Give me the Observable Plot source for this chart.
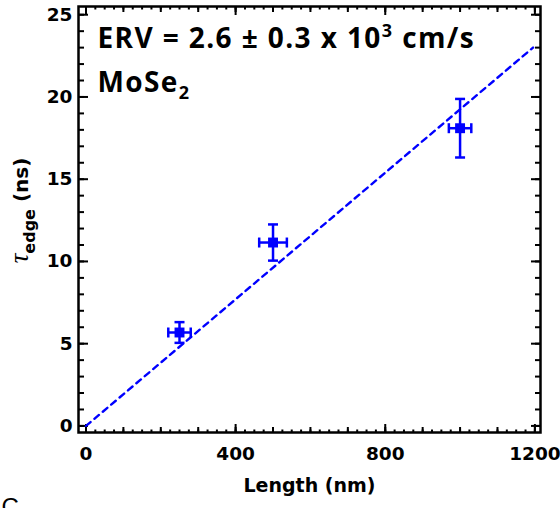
<!DOCTYPE html>
<html><head><meta charset="utf-8">
<script src="https://cdn.jsdelivr.net/npm/d3@7"></script>
<script src="https://cdn.jsdelivr.net/npm/@observablehq/plot@0.6"></script>
<style>body{margin:0;background:#fff}#chart{width:560px;height:508px;overflow:hidden}</style>
</head><body><div id="chart"></div>
<script>
// ---- data ----
const lengthNm = [250, 500, 1000];
const lengthErrNm = [30, 37, 30];
const tauNs = [5.68, 11.15, 18.1];
const tauErrNs = [0.63, 1.1, 1.78];
const fitLengthNm = [0, 1195];
const fitTauNs = [0, 23.0];
const xTickLabels = [0, 400, 800, 1200];
const yTickLabels = [0, 5, 10, 15, 20, 25];
const xMinorTicks = d3.range(0, 1201, 25);
const xMidTicks = d3.range(0, 1201, 100);
const yMinorTicks = d3.range(0, 26, 1);
const annotation1 = "ERV = 2.6 ± 0.3 x 10";
const annotation1Sup = "3";
const annotation1End = " cm/s";
const annotation2 = "MoSe";
const annotation2Sub = "2";
const xLabel = "Length (nm)";
const yLabelSym = "τ", yLabelSub = "edge", yLabelEnd = " (ns)";
const panelLetter = "C";

const blue = "#0000ff";
const points = lengthNm.map((L, i) => ({
  L, tau: tauNs[i],
  lo: tauNs[i] - tauErrNs[i], hi: tauNs[i] + tauErrNs[i],
  xlo: L - lengthErrNm[i], xhi: L + lengthErrNm[i]
}));
const fit = fitLengthNm.map((L, i) => ({L, tau: fitTauNs[i]}));

const hCap = {draw(ctx, size) {const r = Math.sqrt(size / Math.PI); ctx.moveTo(-r, 0); ctx.lineTo(r, 0);}};
const vCap = {draw(ctx, size) {const r = Math.sqrt(size / Math.PI); ctx.moveTo(0, -r); ctx.lineTo(0, r);}};

const tickFont = {fontFamily: "DejaVu Sans", fontWeight: "bold", fontSize: 18.5};
const none = () => "";
const tk = (fn, ticks, opts) => fn(ticks, {tickFormat: none, label: null, strokeWidth: 2, ...opts});

const plot = Plot.plot({
  width: 560, height: 508,
  marginLeft: 78, marginRight: 20, marginTop: 6, marginBottom: 76,
  style: {background: "white", color: "black", fontFamily: "DejaVu Sans"},
  x: {domain: [-20, 1215]},
  y: {domain: [-0.4, 25.5]},
  marks: [
    // inward ticks
    tk(Plot.axisY, yMinorTicks, {anchor: "right", frameAnchor: "left", tickSize: 5}),
    tk(Plot.axisY, yTickLabels, {anchor: "right", frameAnchor: "left", tickSize: 9}),
    tk(Plot.axisY, yMinorTicks, {anchor: "left", frameAnchor: "right", tickSize: 5}),
    tk(Plot.axisY, yTickLabels, {anchor: "left", frameAnchor: "right", tickSize: 9}),
    tk(Plot.axisX, xMinorTicks, {anchor: "top", frameAnchor: "bottom", tickSize: 3.5}),
    tk(Plot.axisX, xMidTicks, {anchor: "top", frameAnchor: "bottom", tickSize: 6}),
    tk(Plot.axisX, xTickLabels, {anchor: "top", frameAnchor: "bottom", tickSize: 9}),
    tk(Plot.axisX, xMinorTicks, {anchor: "bottom", frameAnchor: "top", tickSize: 3.5}),
    tk(Plot.axisX, xMidTicks, {anchor: "bottom", frameAnchor: "top", tickSize: 6}),
    tk(Plot.axisX, xTickLabels, {anchor: "bottom", frameAnchor: "top", tickSize: 9}),
    // tick labels
    Plot.axisY(yTickLabels, {anchor: "left", tickSize: 0, tickPadding: 6, label: null, tickFormat: d3.format("d"), ...tickFont}),
    Plot.axisX(xTickLabels, {anchor: "bottom", tickSize: 0, tickPadding: 14, label: null, tickFormat: d3.format("d"), ...tickFont}),
    Plot.frame({stroke: "black", strokeWidth: 2.5}),
    // fit line
    Plot.line(fit, {x: "L", y: "tau", stroke: blue, strokeWidth: 2.4, strokeDasharray: "6,5"}),
    // error bars
    Plot.ruleX(points, {x: "L", y1: "lo", y2: "hi", stroke: blue, strokeWidth: 2.5}),
    Plot.ruleY(points, {y: "tau", x1: "xlo", x2: "xhi", stroke: blue, strokeWidth: 2.5}),
    Plot.dot(points, {x: "L", y: "hi", symbol: hCap, r: 5, stroke: blue, strokeWidth: 2.5, fill: "none"}),
    Plot.dot(points, {x: "L", y: "lo", symbol: hCap, r: 5, stroke: blue, strokeWidth: 2.5, fill: "none"}),
    Plot.dot(points, {x: "xlo", y: "tau", symbol: vCap, r: 5, stroke: blue, strokeWidth: 2.5, fill: "none"}),
    Plot.dot(points, {x: "xhi", y: "tau", symbol: vCap, r: 5, stroke: blue, strokeWidth: 2.5, fill: "none"}),
    Plot.dot(points, {x: "L", y: "tau", symbol: "square", r: 5.6, fill: blue, stroke: "none"}),
    // annotations
    Plot.text([annotation1], {frameAnchor: "top-left", dx: 19, dy: 22, textAnchor: "start", lineAnchor: "top",
      fontFamily: "Open Sans", fontWeight: "bold", fontSize: 28, fill: "black"}),
    Plot.text([annotation2], {frameAnchor: "top-left", dx: 19, dy: 66, textAnchor: "start", lineAnchor: "top",
      fontFamily: "Open Sans", fontWeight: "bold", fontSize: 28, fill: "black"}),
    // axis titles
    Plot.text([xLabel], {frameAnchor: "bottom", dy: 46, lineAnchor: "top", textAnchor: "middle",
      fontFamily: "DejaVu Sans", fontWeight: "bold", fontSize: 19, fill: "black"}),
    Plot.text([yLabelEnd], {frameAnchor: "left", dx: -57, dy: -9, rotate: -90, lineAnchor: "middle", textAnchor: "middle",
      fontFamily: "DejaVu Sans", fontWeight: "bold", fontSize: 20, fill: "black"}),
    Plot.text([panelLetter], {frameAnchor: "bottom-left", dx: -77, dy: 65, lineAnchor: "top", textAnchor: "start",
      fontFamily: "Liberation Sans", fontSize: 24, fill: "black"})
  ]
});

const svg = d3.select(plot);
const findText = s => svg.selectAll("text").filter(function() { return this.textContent === s; });
findText(annotation1).each(function() {
  const t = d3.select(this); t.text(null).style("letter-spacing", "1.4px");
  t.append("tspan").text(annotation1);
  t.append("tspan").attr("font-size", 18).attr("dy", -11).text(annotation1Sup);
  t.append("tspan").attr("dy", 11).text(annotation1End);
});
findText(annotation2).each(function() {
  const t = d3.select(this); t.text(null).style("letter-spacing", "1.4px");
  t.append("tspan").text(annotation2);
  t.append("tspan").attr("font-size", 18).attr("dy", 7).text(annotation2Sub);
});
findText(yLabelEnd).each(function() {
  const t = d3.select(this); t.text(null);
  t.append("tspan").attr("font-family", "Liberation Serif").attr("font-style", "italic").attr("font-weight", "normal").attr("font-size", 27).text(yLabelSym);
  t.append("tspan").attr("font-size", 16).attr("dy", 7).text(yLabelSub);
  t.append("tspan").attr("dy", -7).text(yLabelEnd);
});
document.getElementById("chart").append(plot);
</script>
</body></html>
